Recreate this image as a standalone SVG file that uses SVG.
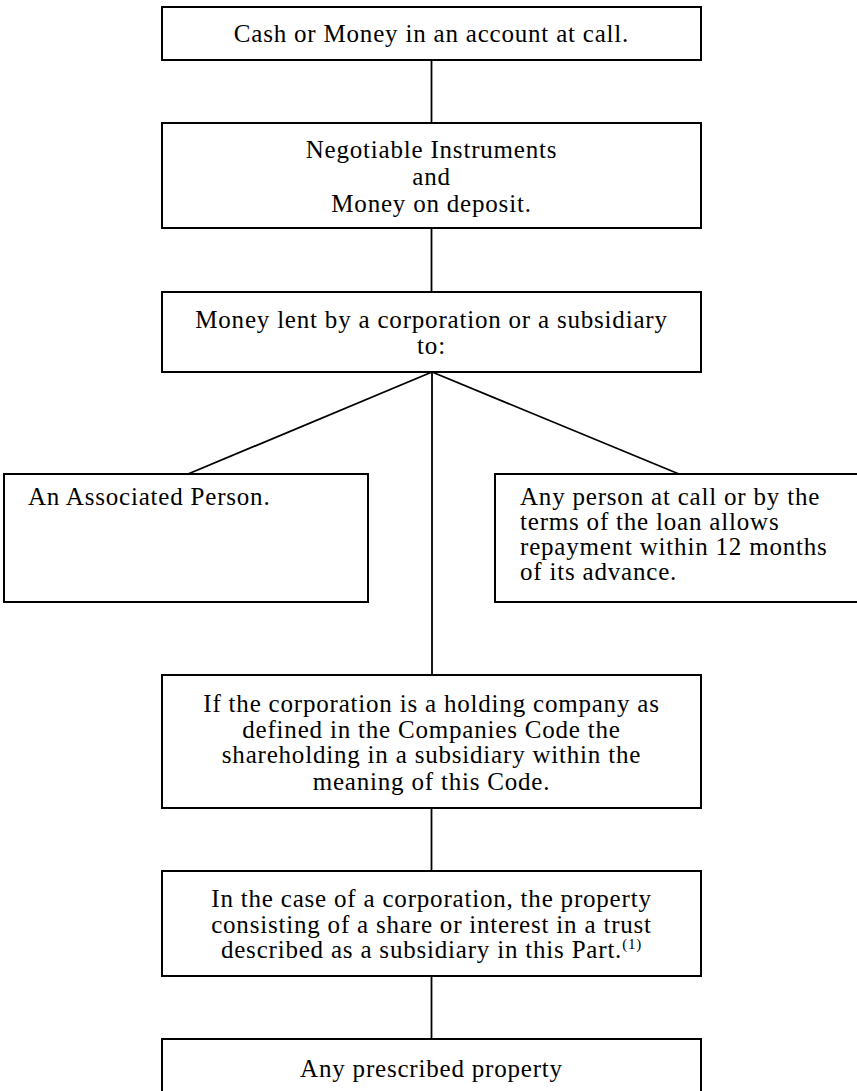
<svg xmlns="http://www.w3.org/2000/svg" width="857" height="1091" viewBox="0 0 857 1091">
<style>
.box{fill:#fff;stroke:#000;stroke-width:2}
.t{font-family:"Liberation Serif","Times New Roman",serif;font-size:25px;letter-spacing:0.8px;fill:#000}
.c{text-anchor:middle}
.con{stroke:#000;stroke-width:1.8;fill:none}
</style>
<rect width="857" height="1091" fill="#fff"/>
<g id="connectors">
<line class="con" x1="431.5" y1="60" x2="431.5" y2="123"/>
<line class="con" x1="431.5" y1="228" x2="431.5" y2="292"/>
<line class="con" x1="432" y1="372" x2="188" y2="474"/>
<line class="con" x1="432" y1="372" x2="679" y2="474"/>
<line class="con" x1="432" y1="372" x2="432" y2="675"/>
<line class="con" x1="431.5" y1="808" x2="431.5" y2="871"/>
<line class="con" x1="431.5" y1="976" x2="431.5" y2="1039"/>
</g>
<g id="n1">
<rect class="box" x="162" y="7" width="539" height="53"/>
<text class="t c" x="431.5" y="42">Cash or Money in an account at call.</text>
</g>
<g id="n2">
<rect class="box" x="162" y="123" width="539" height="105"/>
<text class="t c" x="431.5" y="158">Negotiable Instruments</text>
<text class="t c" x="431.5" y="185">and</text>
<text class="t c" x="431.5" y="212">Money on deposit.</text>
</g>
<g id="n3">
<rect class="box" x="162" y="292" width="539" height="80"/>
<text class="t c" x="431.5" y="328">Money lent by a corporation or a subsidiary</text>
<text class="t c" x="431.5" y="354">to:</text>
</g>
<g id="n4">
<rect class="box" x="4" y="474" width="364" height="128"/>
<text class="t" x="28" y="505">An Associated Person.</text>
</g>
<g id="n5">
<rect class="box" x="495" y="474" width="370" height="128"/>
<text class="t" x="520" y="505">Any person at call or by the</text>
<text class="t" x="520" y="530">terms of the loan allows</text>
<text class="t" x="520" y="555">repayment within 12 months</text>
<text class="t" x="520" y="580">of its advance.</text>
</g>
<g id="n6">
<rect class="box" x="162" y="675" width="539" height="133"/>
<text class="t c" x="431.5" y="712">If the corporation is a holding company as</text>
<text class="t c" x="431.5" y="738">defined in the Companies Code the</text>
<text class="t c" x="431.5" y="763">shareholding in a subsidiary within the</text>
<text class="t c" x="431.5" y="790">meaning of this Code.</text>
</g>
<g id="n7">
<rect class="box" x="162" y="871" width="539" height="105"/>
<text class="t c" x="431.5" y="907">In the case of a corporation, the property</text>
<text class="t c" x="431.5" y="933">consisting of a share or interest in a trust</text>
<text class="t c" x="431.5" y="958">described as a subsidiary in this Part.<tspan font-size="15" dy="-9">(1)</tspan></text>
</g>
<g id="n8">
<rect class="box" x="162" y="1039" width="539" height="60"/>
<text class="t c" x="431.5" y="1077">Any prescribed property</text>
</g>
</svg>
